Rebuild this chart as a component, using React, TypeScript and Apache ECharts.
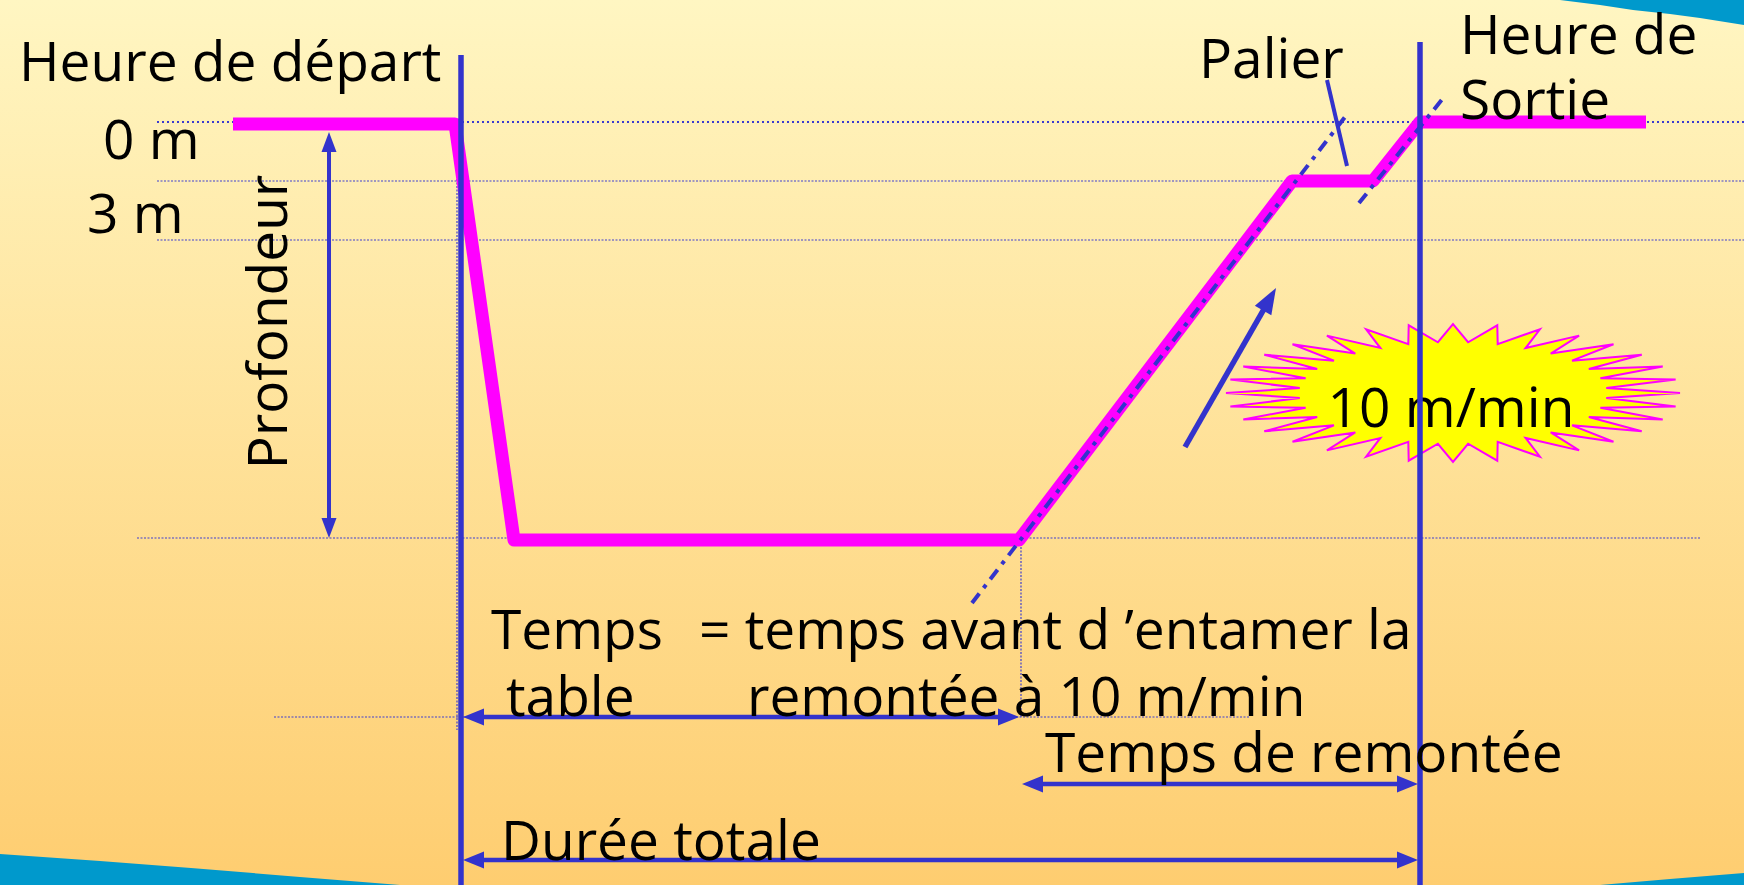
import React, { useEffect, useRef } from 'react';
import * as echarts from 'echarts';

const W = 1744;
const H = 885;
const FONT = '"Open Sans", "Noto Sans", sans-serif';
const FS = 55;
const LH = 60;
const BLUE = '#3333CC';
const MAGENTA = '#FF00FF';

// Dive profile (diagram units = reference pixels)
const profileX = [233, 455, 514, 1019, 1292, 1373, 1420, 1646];
const profileY = [124, 124, 540, 540, 181, 181, 122, 122];

// Thin dotted guide lines [x1, y1, x2, y2]
const guideMain = [[157, 122, 1744, 122]];
const guideThin = [
  [157, 181, 1744, 181],
  [157, 240, 1744, 240],
  [137, 538, 1700, 538],
  [274, 717, 1250, 717],
  [457, 165, 457, 730],
  [1021, 540, 1021, 717],
];

// Dash-dot ascent guides
const ascentGuides = [
  [972, 603, 1345, 117],
  [1359, 203, 1444, 97],
];

// Blue vertical markers (départ / sortie)
const verticalMarkers = [
  [461, 55, 461, 885],
  [1420, 42, 1420, 885],
];

// Leader line of "Palier"
const palierLeader = [1327, 80, 1347, 166];

// Arrows [x1, y1, x2, y2, bothHeads]
const depthArrow = [[329, 132, 329, 538, 1]];
const timeArrows = [
  [463, 717, 1019, 717, 1],
  [1022, 784, 1418, 784, 1],
  [463, 860, 1418, 860, 1],
];
const ascentArrow = [[1185, 447, 1276, 288, 0]];

// Starburst "10 m/min"
const starCenter = [1453, 393];
const starLabel = '10 m/min';

// Texts
const labelTexts = [
  'Heure de départ', '0 m', '3 m', 'Palier', 'Heure de', 'Sortie',
  'Temps', 'table', '= temps avant d \u2019entamer la', 'remontée à 10 m/min',
  'Temps de remontée', 'Durée totale',
];
const labelX = [19, 103, 87, 1199, 1460, 1460, 491, 506, 699, 747, 1045, 501];
const labelBaseline = [80, 158, 232, 77, 53, 118, 648, 715, 648, 715, 771, 859];
const verticalLabel = 'Profondeur';

const CENTRAL = 0.37 * FS;

function segSeries(seg: number[], color: string, width: number, type: any, z: number) {
  return {
    type: 'line',
    data: [[seg[0], seg[1]], [seg[2], seg[3]]],
    symbol: 'none',
    silent: true,
    z,
    lineStyle: { color, width, type, cap: 'butt' },
  };
}

function arrowSeries(data: number[][], headLen: number, headW: number, lw: number) {
  return {
    type: 'custom',
    z: 6,
    silent: true,
    data,
    renderItem: (_p: any, api: any) => {
      const a = api.coord([api.value(0), api.value(1)]);
      const b = api.coord([api.value(2), api.value(3)]);
      const both = api.value(4) === 1;
      const dx = b[0] - a[0];
      const dy = b[1] - a[1];
      const len = Math.hypot(dx, dy);
      const ux = dx / len;
      const uy = dy / len;
      const nx = -uy;
      const ny = ux;
      const head = (tip: number[], dir: number) => {
        const bx = tip[0] - dir * ux * headLen;
        const by = tip[1] - dir * uy * headLen;
        return {
          type: 'polygon',
          shape: {
            points: [
              [tip[0], tip[1]],
              [bx + (nx * headW) / 2, by + (ny * headW) / 2],
              [bx - (nx * headW) / 2, by - (ny * headW) / 2],
            ],
          },
          style: { fill: BLUE },
        };
      };
      const s = both ? [a[0] + ux * headLen * 0.8, a[1] + uy * headLen * 0.8] : a;
      const e = [b[0] - ux * headLen * 0.8, b[1] - uy * headLen * 0.8];
      const children: any[] = [
        {
          type: 'line',
          shape: { x1: s[0], y1: s[1], x2: e[0], y2: e[1] },
          style: { stroke: BLUE, lineWidth: lw },
        },
        head(b, 1),
      ];
      if (both) children.push(head(a, -1));
      return { type: 'group', children };
    },
  };
}

export default function App() {
  const ref = useRef<HTMLDivElement>(null);

  useEffect(() => {
    if (!ref.current) return;
    const chart = echarts.init(ref.current, null, { renderer: 'svg' });

    const series: any[] = [];
    guideMain.forEach((g) => series.push(segSeries(g, '#3A3AD0', 2, [2, 3], 1)));
    guideThin.forEach((g) => series.push(segSeries(g, '#4040D0', 1.2, [2, 1.5], 1)));

    // starburst with its label
    series.push({
      type: 'custom',
      z: 2,
      silent: true,
      data: [starCenter],
      renderItem: (_p: any, api: any) => {
        const cx = api.value(0);
        const cy = api.value(1);
        const n = 32;
        const pts: number[][] = [];
        for (let i = 0; i < n * 2; i++) {
          const t = (Math.PI * i) / n;
          const outer = i % 2 === 0;
          const rx = outer ? 227 : 154;
          const ry = outer ? 69 : 51;
          pts.push(api.coord([cx + rx * Math.cos(t), cy - ry * Math.sin(t)]));
        }
        const c = api.coord([cx, cy]);
        return {
          type: 'group',
          children: [
            {
              type: 'polygon',
              shape: { points: pts },
              style: { fill: '#FFFF00', stroke: MAGENTA, lineWidth: 2, lineJoin: 'miter' },
            },
            {
              type: 'text',
              style: {
                text: starLabel,
                x: c[0] - 2,
                y: c[1] + 12,
                align: 'center',
                verticalAlign: 'middle',
                fontSize: FS,
                lineHeight: LH,
                fontFamily: FONT,
                fill: '#000',
              },
            },
          ],
        };
      },
    });

    series.push({
      type: 'line',
      data: profileX.map((x, i) => [x, profileY[i]]),
      symbol: 'none',
      silent: true,
      z: 3,
      lineStyle: { color: MAGENTA, width: 13, join: 'round', cap: 'butt' },
    });

    ascentGuides.forEach((g) => series.push(segSeries(g, BLUE, 4, [12, 7, 4, 7], 4)));
    verticalMarkers.forEach((g) => series.push(segSeries(g, BLUE, 5.5, 'solid', 5)));
    series.push(segSeries(palierLeader, BLUE, 4, 'solid', 5));

    series.push(arrowSeries(depthArrow, 20, 15, 4));
    series.push(arrowSeries(timeArrows, 21, 17, 4.5));
    series.push(arrowSeries(ascentArrow, 26, 19, 5.5));

    const texts: any[] = labelTexts.map((t, i) => ({
      type: 'text',
      x: labelX[i],
      y: labelBaseline[i] - CENTRAL,
      z: 100,
      silent: true,
      style: {
        text: t,
        fontSize: FS,
        lineHeight: LH,
        fontFamily: FONT,
        fill: '#000',
        align: 'left',
        verticalAlign: 'middle',
      },
    }));
    texts.push({
      type: 'text',
      x: 286 - CENTRAL,
      y: 322,
      rotation: Math.PI / 2,
      z: 100,
      silent: true,
      style: {
        text: verticalLabel,
        fontSize: FS,
        lineHeight: LH,
        fontFamily: FONT,
        fill: '#000',
        align: 'center',
        verticalAlign: 'middle',
      },
    });

    chart.setOption({
      animation: false,
      grid: { left: 0, right: 0, top: 0, bottom: 0 },
      xAxis: { type: 'value', min: 0, max: W, show: false },
      yAxis: { type: 'value', min: 0, max: H, inverse: true, show: false },
      graphic: [
        {
          type: 'rect',
          z: -100,
          silent: true,
          shape: { x: 0, y: 0, width: W, height: H },
          style: {
            fill: new echarts.graphic.LinearGradient(0, 0, 0, 1, [
              { offset: 0, color: '#FFF6C2' },
              { offset: 1, color: '#FECD70' },
            ]),
          },
        },
        {
          type: 'polygon',
          z: -90,
          silent: true,
          shape: { points: [[1560, 0], [1600, 5], [1633, 10], [1670, 14], [1700, 18], [1744, 25], [1744, 0]] },
          style: { fill: '#0099CC' },
        },
        {
          type: 'polygon',
          z: -90,
          silent: true,
          shape: { points: [[0, 854], [100, 861], [191, 868], [300, 877], [400, 885], [0, 885]] },
          style: { fill: '#0099CC' },
        },
        {
          type: 'polygon',
          z: -90,
          silent: true,
          shape: { points: [[1600, 885], [1670, 879], [1744, 873], [1744, 885]] },
          style: { fill: '#0099CC' },
        },
        ...texts,
      ],
      series,
    });

    return () => chart.dispose();
  }, []);

  return (
    <div
      ref={ref}
      style={{ position: 'absolute', left: 0, top: 0, width: W, height: H }}
    />
  );
}
